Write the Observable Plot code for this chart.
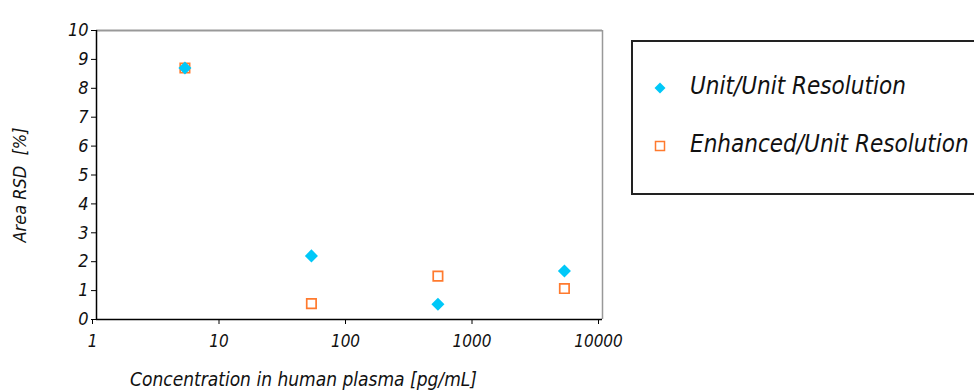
<!DOCTYPE html>
<html>
<head>
<meta charset="utf-8">
<script src="https://cdn.jsdelivr.net/npm/d3@7"></script>
<script src="https://cdn.jsdelivr.net/npm/@observablehq/plot@0.6"></script>
<style>
  html, body { margin: 0; padding: 0; background: #fff; overflow: hidden; }
  #wrap { position: relative; width: 974px; height: 392px; }
  #legend {
    position: absolute; left: 631px; top: 40px; width: 360px; height: 155px;
    border: 2px solid #222; box-sizing: border-box; background: #fff;
    font-family: "DejaVu Sans Condensed", "DejaVu Sans", sans-serif;
    font-stretch: condensed; font-style: italic; font-size: 24px; color: #111;
  }
  .item { position: absolute; left: 0; }
  .item svg { position: absolute; left: 20px; }
  .item span { position: absolute; left: 57px; white-space: nowrap; }
</style>
</head>
<body>
<div id="wrap">
  <div id="chart"></div>
  <div id="legend"></div>
</div>
<script>
const concentrations = [5, 50, 500, 5000];
const unitUnit = [8.7, 2.2, 0.53, 1.68];
const enhancedUnit = [8.7, 0.55, 1.50, 1.07];
const seriesNames = ["Unit/Unit Resolution", "Enhanced/Unit Resolution"];
const xTicks = [1, 10, 100, 1000, 10000];
const yTicks = [0, 1, 2, 3, 4, 5, 6, 7, 8, 9, 10];

const cyan = "#00C8F8";
const orange = "#FF7A2E";
const font = "'DejaVu Sans Condensed', 'DejaVu Sans', sans-serif";

const unitData = concentrations.map((c, i) => ({x: c, y: unitUnit[i]}));
const enhData = concentrations.map((c, i) => ({x: c, y: enhancedUnit[i]}));

const chart = Plot.plot({
  width: 974,
  height: 392,
  marginLeft: 96,
  marginRight: 372,
  marginTop: 30,
  marginBottom: 73,
  style: {fontFamily: font, fontStyle: "italic", fontSize: "18px", color: "#111", background: "transparent"},
  x: {type: "log", domain: [1, 10000], ticks: xTicks, tickFormat: d => String(d)},
  y: {domain: [0, 10], ticks: yTicks},
  marks: [
    Plot.ruleY([10], {stroke: "#999", strokeWidth: 2}),
    Plot.ruleX([10000], {stroke: "#999", strokeWidth: 1.5}),
    Plot.axisX({ticks: xTicks, tickFormat: d => String(d), tickSize: 5, tickPadding: 10, stroke: "#000", fontSize: 17, dx: -4, label: null}),
    Plot.axisY({ticks: yTicks, tickSize: 5, tickPadding: 3, stroke: "#000", fontSize: 18, label: null}),
    Plot.ruleX([1], {stroke: "#000", strokeWidth: 1.5}),
    Plot.ruleY([0], {stroke: "#000", strokeWidth: 1.5}),
    Plot.dot(enhData, {x: "x", y: "y", symbol: "square", r: 5.3, stroke: orange, strokeWidth: 1.7, fill: "white"}),
    Plot.dot(unitData, {x: "x", y: "y", symbol: "diamond2", r: 5.9, fill: cyan, stroke: "none"}),
    Plot.text(["Concentration in human plasma [pg/mL]"], {frameAnchor: "bottom", dy: 66, dx: -46, fontSize: 19, fontStyle: "italic"}),
    Plot.text(["Area RSD  [%]"], {frameAnchor: "left", textAnchor: "middle", dx: -76, dy: 10, rotate: -90, fontSize: 18, fontStyle: "italic"})
  ]
});
document.getElementById("chart").appendChild(chart);

// Legend
const legend = document.getElementById("legend");
const rows = [
  {name: seriesNames[0], top: 46, svg: `<svg width="14" height="14" viewBox="-7 -7 14 14"><path d="M0,-5.5L5.5,0L0,5.5L-5.5,0Z" fill="${cyan}"/></svg>`},
  {name: seriesNames[1], top: 104, svg: `<svg width="14" height="14" viewBox="-7 -7 14 14"><rect x="-4.5" y="-4.5" width="9" height="9" fill="none" stroke="${orange}" stroke-width="1.5"/></svg>`}
];
for (const r of rows) {
  const d = document.createElement("div");
  d.className = "item";
  d.style.top = r.top + "px";
  d.innerHTML = r.svg.replace("<svg", '<svg style="top:-7px"') + `<span style="top:-16px">${r.name}</span>`;
  legend.appendChild(d);
}
</script>
</body>
</html>
